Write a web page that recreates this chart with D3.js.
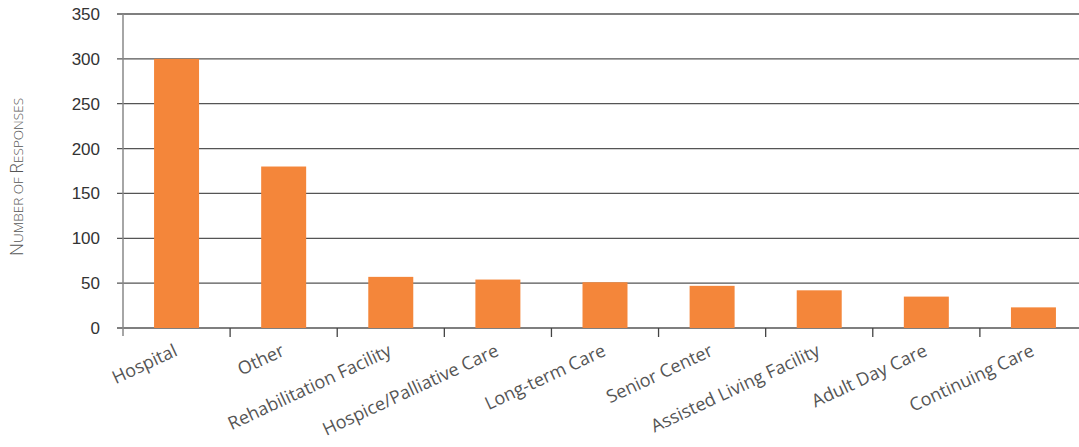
<!DOCTYPE html>
<html><head><meta charset="utf-8">
<script src="https://cdn.jsdelivr.net/npm/d3@7"></script>
<style>body{margin:0;background:#fff}</style>
</head><body>
<svg id="c" width="1079" height="447"></svg>
<script>
const categories = ["Hospital","Other","Rehabilitation Facility","Hospice/Palliative Care","Long-term Care","Senior Center","Assisted Living Facility","Adult Day Care","Continuing Care"];
const values = [300,180,57,54,51,47,42,35,23];
const yTicks = [0,50,100,150,200,250,300,350];

(function(){
const svg = d3.select("#c");
const mLeft = 123, mRight = 1087, mTop = 14, mBottom = 328;
const x = d3.scaleBand().domain(categories).range([mLeft, mRight]).paddingInner(0.58).paddingOuter(0.29);
const y = d3.scaleLinear().domain([0,350]).range([mBottom, mTop]);
const step = x.step();

svg.append("g").selectAll("line").data(yTicks).join("line")
  .attr("x1", mLeft-6).attr("x2", 1079)
  .attr("y1", d=>y(d)).attr("y2", d=>y(d))
  .attr("stroke", "#555").attr("stroke-width", 1.3);

svg.append("g").selectAll("text").data(yTicks).join("text")
  .attr("x", 100).attr("y", d=>y(d)).attr("dy","0.35em")
  .attr("text-anchor","end")
  .attr("font-family","Liberation Sans, Arial, sans-serif")
  .attr("font-size",17).attr("fill","#333")
  .text(d=>d);

svg.append("g").selectAll("rect").data(values).join("rect")
  .attr("x",(d,i)=>x(categories[i])).attr("width",x.bandwidth())
  .attr("y",d=>y(d)).attr("height",d=>y(0)-y(d))
  .attr("fill","#f4863a");

svg.append("line").attr("x1",mLeft).attr("x2",mLeft).attr("y1",mTop).attr("y2",mBottom+8)
  .attr("stroke","#888").attr("stroke-width",1.5);

svg.append("g").selectAll("line").data(categories.slice(1)).join("line")
  .attr("x1",d=>x(d)-step*0.29).attr("x2",d=>x(d)-step*0.29)
  .attr("y1",mBottom).attr("y2",mBottom+9)
  .attr("stroke","#444").attr("stroke-width",1.3);

svg.append("g").selectAll("text").data(categories).join("text")
  .attr("transform",d=>`translate(${x(d)+x.bandwidth()/2+2},${mBottom+27}) rotate(-25)`)
  .attr("text-anchor","end")
  .attr("font-family","Open Sans, sans-serif")
  .attr("font-size",18).attr("fill","#555")
  .text(d=>d);

const t = svg.append("text")
  .attr("transform","translate(23,177) rotate(-90)")
  .attr("text-anchor","middle")
  .attr("font-family","Open Sans, sans-serif")
  .attr("fill","#555").attr("font-weight",300);
const parts = [["N",18],["UMBER OF ",13.5],["R",18],["ESPONSES",13.5]];
parts.forEach(p=>t.append("tspan").attr("font-size",p[1]).text(p[0]));
})();
</script>
</body></html>
